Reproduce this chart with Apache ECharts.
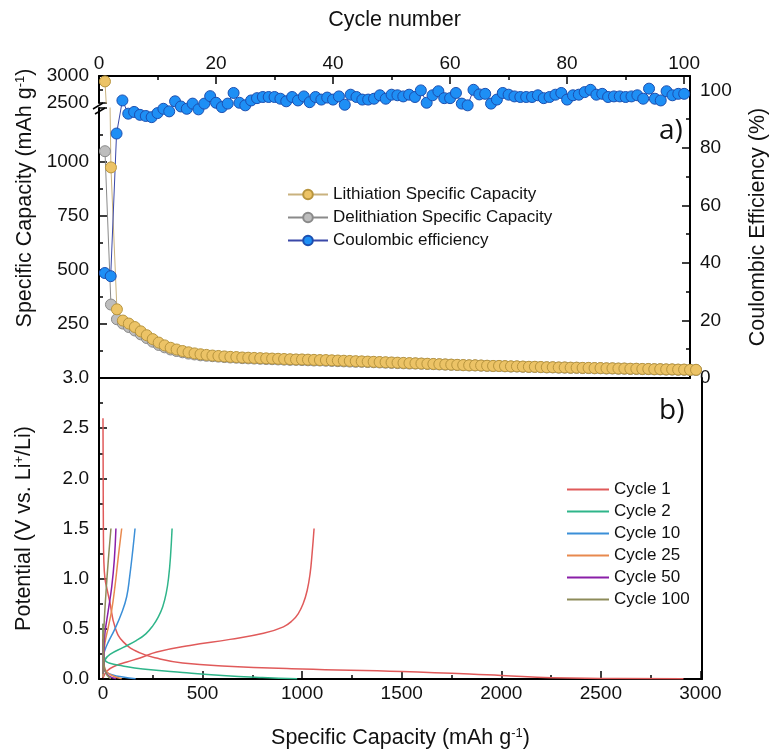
<!DOCTYPE html>
<html>
<head>
<meta charset="utf-8">
<script src="https://cdn.jsdelivr.net/npm/echarts@6.0.0/dist/echarts.min.js"></script>
<style>html,body{margin:0;padding:0;background:#fff}#main{width:777px;height:750px}</style>
</head>
<body>
<div id="main"></div>
<script>
// 循环数据 (cycle 1..100)
var lithCap = [2900,975,318,266,252,236,216,198,180,164,151,140,132,125,119,114,110,107,104,102,100,98,97,95,94,
	93,92,91,90,89,88,87,86,86,85,84,83,83,82,81,
	80,79,78,77,76,75,74,73,72,71,70,69,68,67,66,65,64,63,62,61,
	60,59,59,58,57,56,56,55,54,54,53,52,52,51,50,50,49,49,48,48,
	47,47,46,46,45,45,44,44,43,43,42,42,41,41,40,40,39,39,38,38];
var delithCap = [1050,340,272,252,236,220,202,185,168,153,142,132,125,119,113,109,105,103,101,99,97,95,94,92,91,
	90,89,88,87,86,85,84,84,83,82,81,81,80,79,78,
	77,76,75,75,74,73,72,71,70,69,68,67,67,66,65,64,63,62,61,60,
	59,58,58,57,56,55,55,54,53,53,52,51,51,50,49,49,48,48,47,47,
	46,46,45,45,44,44,43,43,42,42,41,41,40,40,39,39,38,38,37,37];
var coulEff = [36.5,35.4,85,96.5,91.9,92.5,91.5,91.1,90.7,92.1,93.6,92.7,96.2,94.4,93.6,95.4,93.4,95.4,98,95.7,
	94.2,95.4,99.1,95.7,94.8,96.5,97.3,97.7,97.7,97.7,97.1,96.2,97.7,96.5,97.9,95.9,97.7,96.8,97.5,96.8,
	97.9,95.0,98.5,97.7,96.8,96.8,97.1,98.3,97.1,98.5,98.3,97.9,98.5,97.7,100,95.7,98.3,99.7,97.3,97.3,
	99.1,95.4,94.8,100.2,98.6,98.8,95.4,96.8,99.1,98.5,97.9,97.7,97.7,97.7,98.3,97.3,97.7,98.5,99.1,96.8,
	98.3,98.5,99.4,100.2,98.5,98.8,97.7,97.9,97.9,97.7,97.9,98.3,97.1,100.6,97.1,96.5,99.7,98.3,98.8,98.8];

// 充放电曲线 [capacity, potential]
var cyc1Lith = [[0,2.6],[1,2.0],[2,1.5],[4,1.2],[10,1.0],[22,0.88],[35,0.76],[60,0.52],[102,0.37],[186,0.26],[286,0.2],[400,0.16],[600,0.13],[1000,0.1],[1500,0.075],[2000,0.035],[2250,0.012],[2500,0.006],[2915,0.003]];
var cyc1Delith = [[0,0.01],[20,0.08],[60,0.13],[120,0.17],[186,0.21],[270,0.27],[437,0.335],[638,0.395],[806,0.455],[906,0.52],[950,0.58],[980,0.65],[1005,0.75],[1025,0.88],[1040,1.05],[1050,1.25],[1060,1.5]];
var cyc2Lith = [[0,0.55],[3,0.3],[10,0.19],[30,0.16],[100,0.13],[200,0.1],[400,0.065],[600,0.035],[800,0.015],[975,0.003]];
var cyc2Delith = [[0,0.02],[4,0.12],[10,0.19],[35,0.245],[102,0.315],[169,0.385],[215,0.45],[250,0.53],[278,0.62],[300,0.72],[318,0.86],[330,1.02],[339,1.22],[347,1.5]];
var cyc10Lith = [[0,0.35],[3,0.15],[10,0.08],[50,0.04],[100,0.02],[164,0.003]];
var cyc10Delith = [[0,0.02],[2,0.22],[10,0.29],[27,0.37],[60,0.5],[94,0.66],[119,0.82],[134,1.02],[150,1.29],[161,1.5]];
var cyc25Lith = [[0,0.45],[3,0.2],[10,0.1],[40,0.04],[94,0.003]];
var cyc25Delith = [[0,0.02],[2,0.2],[10,0.36],[27,0.52],[44,0.69],[60,0.92],[77,1.22],[94,1.5]];
var cyc50Lith = [[0,0.4],[3,0.18],[10,0.08],[30,0.03],[65,0.003]];
var cyc50Delith = [[0,0.05],[5,0.3],[10,0.46],[27,0.69],[44,0.92],[57,1.19],[65,1.5]];
var cyc100Lith = [[0,0.55],[2,0.25],[8,0.1],[20,0.04],[40,0.003]];
var cyc100Delith = [[0,0.05],[2,0.26],[5,0.52],[15,0.86],[27,1.19],[40,1.5]];

var cycleNames = ['Cycle 1','Cycle 2','Cycle 10','Cycle 25','Cycle 50','Cycle 100'];
var cycleColors = ['#e05a5a','#2fb58a','#3b8fd8','#e8894e','#8a1fa8','#8d8b5a'];
var cycleLith = [cyc1Lith,cyc2Lith,cyc10Lith,cyc25Lith,cyc50Lith,cyc100Lith];
var cycleDelith = [cyc1Delith,cyc2Delith,cyc10Delith,cyc25Delith,cyc50Delith,cyc100Delith];
var capTicks = [0,500,1000,1500,2000,2500,3000];
var capMinorTicks = [250,750,1250,1750,2250,2750];

var names = ['Lithiation Specific Capacity','Delithiation Specific Capacity','Coulombic efficiency'];

var FONT = '"Liberation Sans", Arial, sans-serif';
var axisLine = {show:true, onZero:false, lineStyle:{color:'#000', width:2}};
var tick = {show:true, inside:true, length:8, lineStyle:{color:'#000', width:1.5}};
var minor = {show:true, splitNumber:2, length:4, lineStyle:{color:'#000', width:1.5}};
var label = {color:'#111', fontFamily:FONT, fontSize:19};
var nameStyle = {color:'#111', fontFamily:FONT, fontSize:21.5,
	rich:{sup:{fontFamily:FONT, fontSize:13, verticalAlign:'top', lineHeight:13, color:'#111'}}};
function hideAbove(m){ return function(v){ return v > m ? '' : String(v); }; }
function plain(v){ return String(v); }

function toXY(arr){ return arr.map(function(v,i){ return [i+1, v]; }); }

var lithStyle = {
	type:'line', name:names[0], symbol:'circle', symbolSize:11, clip:true,
	itemStyle:{color:'#ecc366', borderColor:'#b8953e', borderWidth:1},
	lineStyle:{color:'#c9b27e', width:1}, data:toXY(lithCap)
};

var series = [];
series.push({type:'line', name:names[1], xAxisIndex:3, yAxisIndex:2, symbol:'circle', symbolSize:11, clip:true,
	itemStyle:{color:'#bdbdbd', borderColor:'#8a8a8a', borderWidth:1},
	lineStyle:{color:'#8a8a8a', width:1}, data:toXY(delithCap)});
series.push(Object.assign({}, lithStyle, {xAxisIndex:2, yAxisIndex:1}));
series.push(Object.assign({}, lithStyle, {xAxisIndex:3, yAxisIndex:2}));
series.push({type:'line', name:names[2], xAxisIndex:0, yAxisIndex:0, symbol:'circle', symbolSize:11, clip:true,
	itemStyle:{color:'#1e8ff5', borderColor:'#1c4fb0', borderWidth:1},
	lineStyle:{color:'#3a48a8', width:1}, data:toXY(coulEff)});

cycleNames.forEach(function(n,i){
	[cycleLith[i], cycleDelith[i]].forEach(function(d){
		series.push({type:'line', name:n, xAxisIndex:4, yAxisIndex:3, symbol:'none',
			smooth:0.45, color:cycleColors[i],
			lineStyle:{color:cycleColors[i], width:1.5}, data:d});
	});
});

var chart = echarts.init(document.getElementById('main'));
var option = {
	animation:false,
	backgroundColor:'#fff',
	title:[
		{text:'a)', left:654, top:112, textStyle:{fontFamily:'"Open Sans", sans-serif', fontSize:28, fontWeight:'normal', color:'#111'}},
		{text:'b)', left:654, top:392, textStyle:{fontFamily:'"Open Sans", sans-serif', fontSize:28, fontWeight:'normal', color:'#111'}}
	],
	legend:[
		{data:names, orient:'vertical', left:282, top:181, itemWidth:40, itemHeight:12, itemGap:6,
			textStyle:{fontFamily:FONT, fontSize:17, color:'#111'}},
		{data:cycleNames, orient:'vertical', left:561, top:476, itemWidth:42, itemHeight:10, itemGap:5,
			itemStyle:{opacity:0},
			textStyle:{fontFamily:FONT, fontSize:17, color:'#111'}}
	],
	grid:[
		{left:99, top:76, width:603, height:302},
		{left:99, top:76, width:603, height:27},
		{left:99, top:108, width:603, height:270},
		{left:99, top:378, width:603, height:301}
	],
	xAxis:[
		{gridIndex:0, type:'value', position:'top', min:0, max:101, interval:20,
			name:'Cycle number', nameLocation:'middle', nameGap:45, nameTextStyle:nameStyle,
			axisLine:axisLine, axisTick:tick, minorTick:minor, splitLine:{show:false},
			axisLabel:Object.assign({margin:3, formatter:hideAbove(100)}, label)},
		{gridIndex:0, type:'value', position:'bottom', min:0, max:101,
			axisLine:axisLine, axisTick:{show:false}, axisLabel:{show:false}, splitLine:{show:false}},
		{gridIndex:1, type:'value', min:0, max:101, show:false},
		{gridIndex:2, type:'value', min:0, max:101, show:false},
		{gridIndex:3, type:'value', position:'bottom', min:-20, max:3008,
			name:'Specific Capacity (mAh g{sup|-1})', nameLocation:'middle', nameGap:48, nameTextStyle:nameStyle,
			axisLine:axisLine, splitLine:{show:false},
			axisTick:Object.assign({customValues:capTicks}, tick),
			axisLabel:Object.assign({margin:5, customValues:capTicks, formatter:plain}, label)},
		{gridIndex:3, type:'value', position:'bottom', min:-20, max:3008,
			axisLine:{show:false}, splitLine:{show:false}, axisLabel:{show:false},
			axisTick:{show:true, inside:true, length:4, customValues:capMinorTicks, lineStyle:{color:'#000', width:1.5}}}
	],
	yAxis:[
		{gridIndex:0, type:'value', position:'right', min:0, max:105, interval:20,
			name:'Coulombic Efficiency (%)', nameLocation:'middle', nameGap:57, nameTextStyle:nameStyle,
			axisLine:axisLine, axisTick:tick, minorTick:minor, splitLine:{show:false},
			axisLabel:Object.assign({margin:10, formatter:hideAbove(100)}, label)},
		{gridIndex:1, type:'value', position:'left', min:2500, max:3000, interval:500,
			axisLine:axisLine, axisTick:tick, minorTick:minor, splitLine:{show:false},
			axisLabel:Object.assign({margin:10, formatter:plain}, label)},
		{gridIndex:2, type:'value', position:'left', min:0, max:1250, interval:250,
			name:'Specific Capacity (mAh g{sup|-1})', nameLocation:'middle', nameGap:57,
			nameTextStyle:Object.assign({padding:[0,0,0,90]}, nameStyle),
			axisLine:axisLine, axisTick:tick, minorTick:minor, splitLine:{show:false},
			axisLabel:Object.assign({margin:10, formatter:function(v){ return (v===0||v===1250)?'':String(v); }}, label)},
		{gridIndex:3, type:'value', position:'left', min:0, max:3, interval:0.5,
			name:'Potential (V vs. Li{sup|+}/Li)', nameLocation:'middle', nameGap:64, nameTextStyle:nameStyle,
			axisLine:axisLine, axisTick:tick, minorTick:minor, splitLine:{show:false},
			axisLabel:Object.assign({margin:10, formatter:function(v){ return v.toFixed(1); }}, label)},
		{gridIndex:3, type:'value', position:'right', min:0, max:3,
			axisLine:axisLine, axisTick:{show:false}, axisLabel:{show:false}, splitLine:{show:false}}
	],
	// 坐标轴断点标记
	graphic:[
		{type:'line', shape:{x1:93, y1:109, x2:103, y2:103}, style:{stroke:'#000', lineWidth:1.5}},
		{type:'line', shape:{x1:95, y1:114, x2:105, y2:108}, style:{stroke:'#000', lineWidth:1.5}}
	],
	series:series
};
chart.setOption(option);
</script>
</body>
</html>
